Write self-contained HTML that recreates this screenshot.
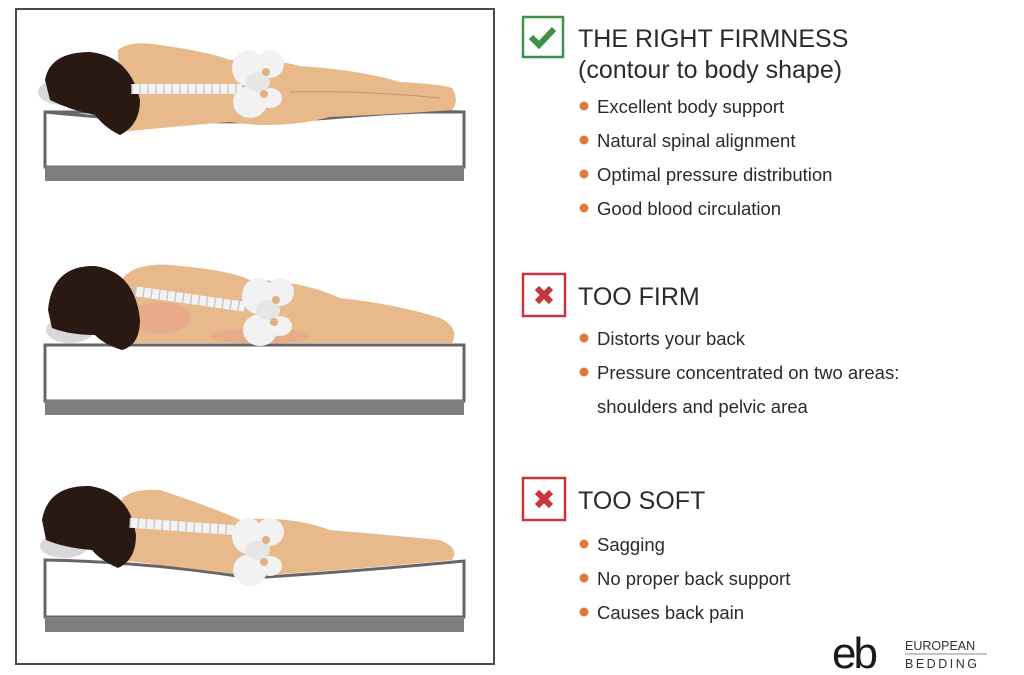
<!DOCTYPE html>
<html><head><style>
html,body{margin:0;padding:0;background:#fff;}
svg{display:block}
text{font-family:"Liberation Sans",sans-serif;fill:#2b2b2b}
</style></head><body>
<svg width="1024" height="675" viewBox="0 0 1024 675" xmlns="http://www.w3.org/2000/svg">
<defs>
<g id="spine">
<rect x="0" y="0" width="110" height="10" fill="#f3f3f3"/>
<path d="M0 0 v10 M8 0 v10 M16 0 v10 M24 0 v10 M32 0 v10 M40 0 v10 M48 0 v10 M56 0 v10 M64 0 v10 M72 0 v10 M80 0 v10 M88 0 v10 M96 0 v10 M104 0 v10" stroke="#c9c9c9" stroke-width="1.5"/>
</g>
<g id="pelvis">
<ellipse cx="0" cy="0" rx="16" ry="18" fill="#f2f2f2"/>
<ellipse cx="22" cy="-4" rx="14" ry="14" fill="#f2f2f2"/>
<ellipse cx="2" cy="34" rx="17" ry="16" fill="#f2f2f2"/>
<ellipse cx="22" cy="30" rx="12" ry="10" fill="#f2f2f2"/>
<ellipse cx="10" cy="14" rx="12" ry="10" fill="#e6e6e6"/>
<circle cx="18" cy="4" r="4" fill="#e0b081"/>
<circle cx="16" cy="26" r="4" fill="#e0b081"/>
</g>
</defs>
<rect x="16" y="9" width="478" height="655" fill="none" stroke="#4a4a4a" stroke-width="2"/>

<!-- panel 1 -->
<rect x="45" y="112" width="419" height="55" fill="#fff" stroke="#666" stroke-width="3"/>
<rect x="45" y="166" width="419" height="15" fill="#7d7d7d"/>
<path d="M45 112 Q200 128 330 118 Q420 110 464 112" fill="none" stroke="#666" stroke-width="3"/>
<path d="M118 50 Q130 40 160 45 Q210 52 230 60 Q260 56 300 66 Q360 70 400 82 Q440 84 452 88 Q460 100 452 110 Q400 114 330 117 Q280 130 230 122 Q180 126 120 132 Z" fill="#e7b98b"/>
<ellipse cx="62" cy="92" rx="24" ry="13" fill="#d8d8d8"/>
<path d="M45 80 Q50 52 90 52 Q130 56 140 100 Q140 125 120 135 Q105 128 95 115 Q70 110 50 100 Z" fill="#2a1913"/>
<use href="#spine" x="132" y="84"/>
<use href="#pelvis" x="248" y="68"/>
<path d="M290 92 Q360 90 440 98" fill="none" stroke="#c99366" stroke-width="1"/>

<!-- panel 2 -->
<rect x="45" y="345" width="419" height="56" fill="#fff" stroke="#666" stroke-width="3"/>
<rect x="45" y="400" width="419" height="15" fill="#7d7d7d"/>
<path d="M118 285 Q130 262 170 265 Q230 270 250 280 Q300 280 340 298 Q400 305 440 318 Q460 328 452 343 L120 343 Z" fill="#e7b98b"/>
<ellipse cx="160" cy="318" rx="30" ry="16" fill="#e8a08a" opacity=".6"/>
<ellipse cx="260" cy="336" rx="50" ry="8" fill="#e8a08a" opacity=".5"/>
<ellipse cx="70" cy="330" rx="24" ry="13" fill="#d8d8d8"/>
<path d="M48 310 Q52 265 95 266 Q135 272 140 320 Q140 345 122 350 Q105 345 95 335 Q70 335 52 328 Z" fill="#2a1913"/>
<g transform="rotate(8 190 300)"><use href="#spine" x="135" y="294"/></g>
<use href="#pelvis" x="258" y="296"/>

<!-- panel 3 -->
<path d="M45 560 Q150 562 250 578 Q350 572 464 561 L464 617 L45 617 Z" fill="#fff" stroke="#666" stroke-width="3"/>
<rect x="45" y="617" width="419" height="15" fill="#7d7d7d"/>
<path d="M118 505 Q125 488 160 490 Q220 510 240 520 Q290 515 330 530 Q400 536 440 540 Q460 548 452 560 Q350 570 250 576 Q170 566 120 560 Z" fill="#e7b98b"/>
<ellipse cx="64" cy="546" rx="24" ry="12" fill="#d8d8d8"/>
<path d="M42 520 Q48 485 90 486 Q130 492 136 535 Q136 560 118 568 Q100 560 92 550 Q65 548 46 540 Z" fill="#2a1913"/>
<g transform="rotate(4 190 530)"><use href="#spine" x="130" y="522"/></g>
<use href="#pelvis" x="248" y="536"/>

<!-- right text -->
<rect x="523" y="17" width="40" height="40" fill="none" stroke="#3f8f48" stroke-width="2.5"/>
<path d="M531 37 L539 45 L554 29" fill="none" stroke="#3f8f48" stroke-width="6"/>
<text x="578" y="47" font-size="25">THE RIGHT FIRMNESS</text>
<text x="578" y="78" font-size="25">(contour to body shape)</text>
<g font-size="18.5">
<circle cx="584" cy="106" r="4.5" fill="#e07b3e"/><text x="597" y="113">Excellent body support</text>
<circle cx="584" cy="140" r="4.5" fill="#e07b3e"/><text x="597" y="147">Natural spinal alignment</text>
<circle cx="584" cy="174" r="4.5" fill="#e07b3e"/><text x="597" y="181">Optimal pressure distribution</text>
<circle cx="584" cy="208" r="4.5" fill="#e07b3e"/><text x="597" y="215">Good blood circulation</text>
</g>
<rect x="523" y="274" width="42" height="42" fill="none" stroke="#c8363a" stroke-width="2.5"/>
<path d="M537 288 L551 302 M551 288 L537 302" stroke="#c8363a" stroke-width="6"/>
<text x="578" y="305" font-size="25">TOO FIRM</text>
<g font-size="18.5">
<circle cx="584" cy="338" r="4.5" fill="#e07b3e"/><text x="597" y="345">Distorts your back</text>
<circle cx="584" cy="372" r="4.5" fill="#e07b3e"/><text x="597" y="379">Pressure concentrated on two areas:</text>
<text x="597" y="413">shoulders and pelvic area</text>
</g>
<rect x="523" y="478" width="42" height="42" fill="none" stroke="#c8363a" stroke-width="2.5"/>
<path d="M537 492 L551 506 M551 492 L537 506" stroke="#c8363a" stroke-width="6"/>
<text x="578" y="509" font-size="25">TOO SOFT</text>
<g font-size="18.5">
<circle cx="584" cy="544" r="4.5" fill="#e07b3e"/><text x="597" y="551">Sagging</text>
<circle cx="584" cy="578" r="4.5" fill="#e07b3e"/><text x="597" y="585">No proper back support</text>
<circle cx="584" cy="612" r="4.5" fill="#e07b3e"/><text x="597" y="619">Causes back pain</text>
</g>
<text x="832" y="668" font-size="44" letter-spacing="-3" style="fill:#1a1a1a">eb</text>
<text x="905" y="650" font-size="12.5" style="fill:#333">EUROPEAN</text>
<line x1="905" y1="654" x2="987" y2="654" stroke="#888" stroke-width="1"/>
<text x="905" y="668" font-size="12.5" letter-spacing="2.5" style="fill:#333">BEDDING</text>
</svg>
</body></html>
